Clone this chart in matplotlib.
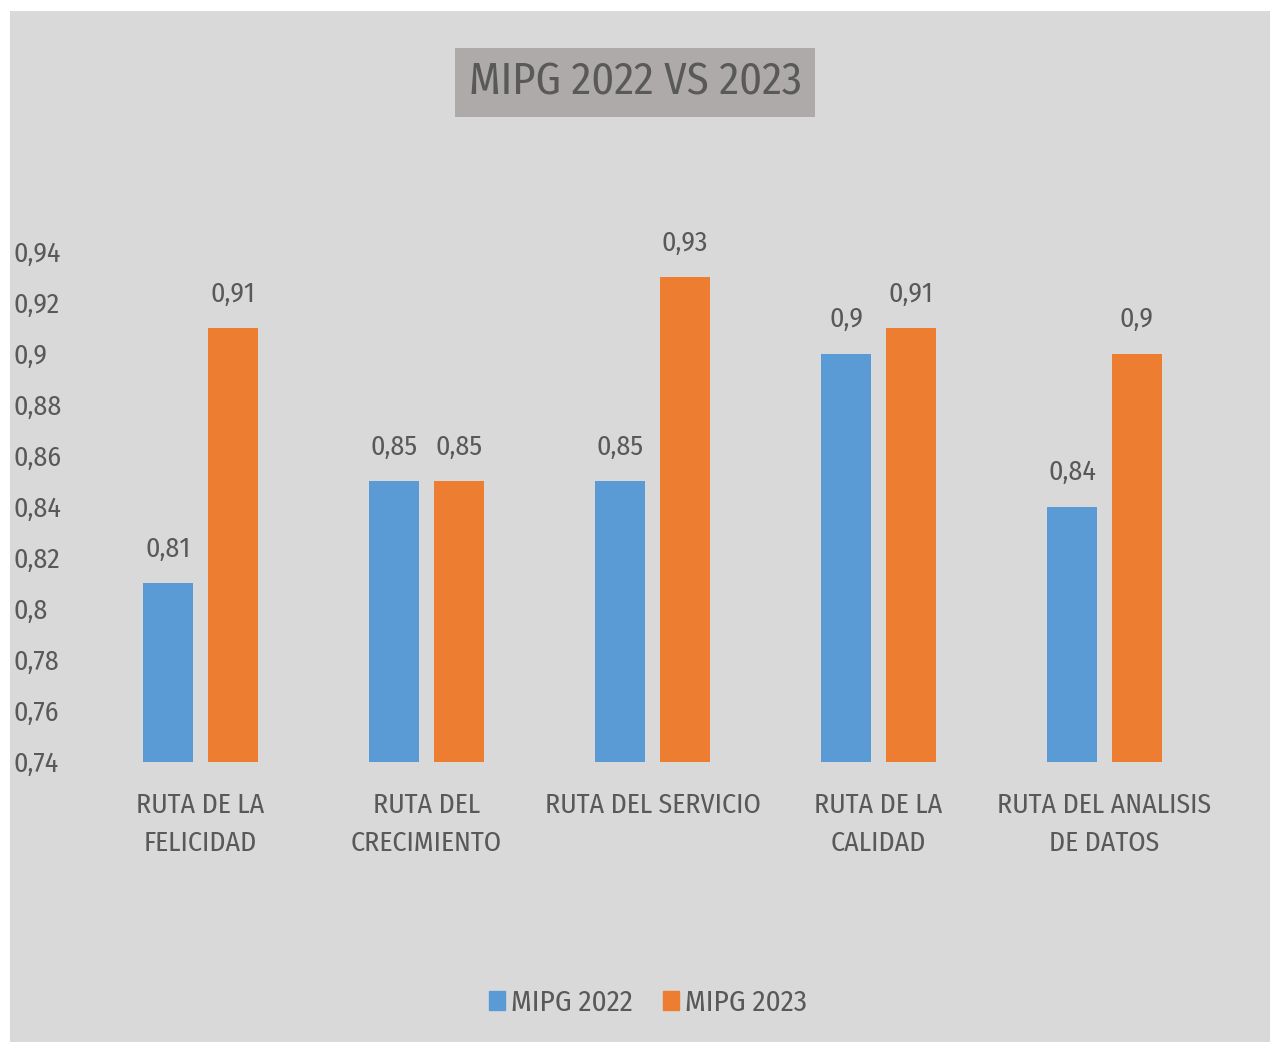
import numpy as np
import matplotlib
matplotlib.use("Agg")
import matplotlib.pyplot as plt
from matplotlib.patches import Rectangle, Patch

plt.rcParams['font.family'] = ['Fira Sans Condensed', 'DejaVu Sans']

categories = ["RUTA DE LA\nFELICIDAD", "RUTA DEL\nCRECIMIENTO", "RUTA DEL SERVICIO",
              "RUTA DE LA\nCALIDAD", "RUTA DEL ANALISIS\nDE DATOS"]
mipg_2022 = [0.81, 0.85, 0.85, 0.90, 0.84]
mipg_2023 = [0.91, 0.85, 0.93, 0.91, 0.90]
y_ticks = [0.74, 0.76, 0.78, 0.80, 0.82, 0.84, 0.86, 0.88, 0.90, 0.92, 0.94]

TXT = '#595959'
BLUE = '#5B9BD5'
ORANGE = '#ED7D31'

fig = plt.figure(figsize=(12.7, 10.42), dpi=100)
fig.patch.set_facecolor('white')
# gray chart area, leaves a thin white border top/left
fig.patches.append(Rectangle((10 / 1270, 0), 1, (1042 - 11) / 1042,
                             transform=fig.transFigure, facecolor='#D9D9D9',
                             edgecolor='none', zorder=-1))

ax = fig.add_axes([0.0689, 0.269, 0.8898, 0.4896])
ax.set_facecolor('none')

x = np.arange(len(categories))
w = 0.222
b1 = ax.bar(x - 0.143, mipg_2022, w, color=BLUE, label='MIPG 2022')
b2 = ax.bar(x + 0.143, mipg_2023, w, color=ORANGE, label='MIPG 2023')

fmt = lambda v: f"{v:g}".replace('.', ',')
ax.bar_label(b1, labels=[fmt(v) for v in mipg_2022], padding=15, fontsize=20, color=TXT)
ax.bar_label(b2, labels=[fmt(v) for v in mipg_2023], padding=15, fontsize=20, color=TXT)

ax.set_xlim(-0.5, len(categories) - 0.5)
ax.set_ylim(0.74, 0.94)
ax.set_yticks(y_ticks)
ax.set_yticklabels([fmt(round(t, 2)) for t in y_ticks], ha='left')
ax.set_xticks(x)
ax.set_xticklabels(categories, linespacing=1.55)
ax.tick_params(axis='y', length=0, pad=53, labelsize=20, labelcolor=TXT)
ax.tick_params(axis='x', length=0, pad=21.5, labelsize=20, labelcolor=TXT)
for s in ax.spines.values():
    s.set_visible(False)

fig.text(0.5, 0.921, "MIPG 2022 VS 2023", ha='center', va='center', fontsize=32,
         color=TXT,
         bbox=dict(boxstyle='square,pad=0.3', facecolor='#AEAAAA', edgecolor='none'))

handles = [Patch(color=BLUE), Patch(color=ORANGE)]
fig.legend(handles, ['MIPG 2022', 'MIPG 2023'], loc='center', bbox_to_anchor=(0.51, 0.038),
           ncol=2, frameon=False, fontsize=21, labelcolor=TXT,
           handlelength=0.55, handleheight=0.65, handletextpad=0.2, columnspacing=1.05)

fig.savefig('out.png', dpi=100)
